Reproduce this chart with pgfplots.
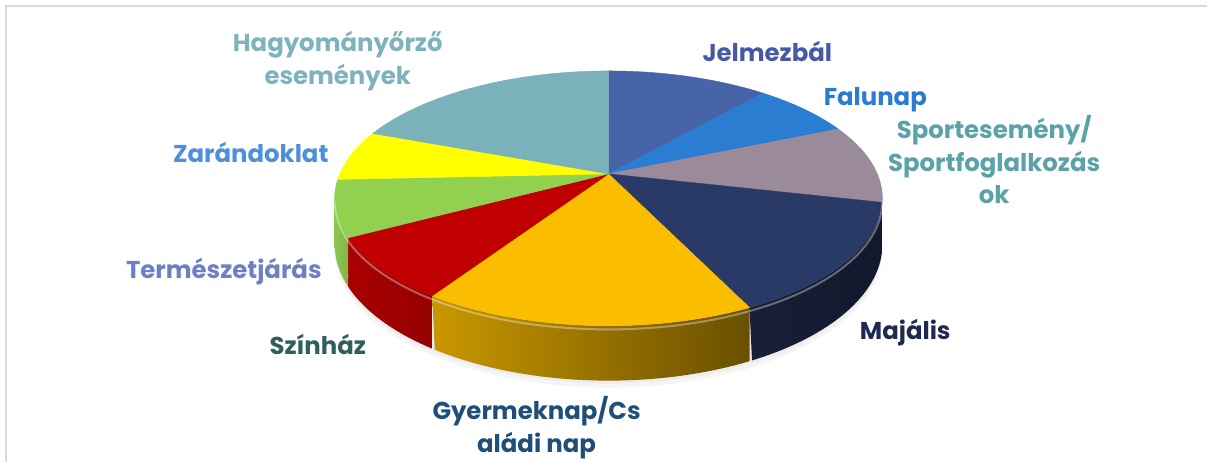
\documentclass[border=0pt]{standalone}
\usepackage{pgfplots}
\pgfplotsset{compat=1.18}
\usepackage{fontspec}
\setmainfont{Poppins}
% slice colours
\definecolor{cJel}{HTML}{4864A8}
\definecolor{cFal}{HTML}{2A7DD1}
\definecolor{cSpo}{HTML}{9B8A99}
\definecolor{cMaj}{HTML}{2A3A66}
\definecolor{cGye}{HTML}{FBBD00}
\definecolor{cSzi}{HTML}{C00000}
\definecolor{cTer}{HTML}{92D050}
\definecolor{cZar}{HTML}{FFFF00}
\definecolor{cHag}{HTML}{7BB1BA}
% label colours
\definecolor{lJel}{HTML}{4659A6}
\definecolor{lFal}{HTML}{2B7BD3}
\definecolor{lSpo}{HTML}{5AA2A8}
\definecolor{lMaj}{HTML}{1F2A52}
\definecolor{lGye}{HTML}{1F4E7A}
\definecolor{lSzi}{HTML}{2E5E5E}
\definecolor{lTer}{HTML}{6C80C4}
\definecolor{lZar}{HTML}{4C8FDA}
\definecolor{lHag}{HTML}{7DB3BC}
\definecolor{frame}{HTML}{D9D9D9}
% data (counts)
\def\vJel{16}\def\vFal{10}\def\vSpo{14}\def\vMaj{20}\def\vGye{23}
\def\vSzi{11}\def\vTer{10}\def\vZar{9}\def\vHag{27}
\pgfmathsetmacro\tot{\vJel+\vFal+\vSpo+\vMaj+\vGye+\vSzi+\vTer+\vZar+\vHag}
\pgfmathsetmacro\sA{0}
\pgfmathsetmacro\sB{\sA+360*\vJel/\tot}
\pgfmathsetmacro\sC{\sB+360*\vFal/\tot}
\pgfmathsetmacro\sD{\sC+360*\vSpo/\tot}
\pgfmathsetmacro\sE{\sD+360*\vMaj/\tot}
\pgfmathsetmacro\sF{\sE+360*\vGye/\tot}
\pgfmathsetmacro\sG{\sF+360*\vSzi/\tot}
\pgfmathsetmacro\sH{\sG+360*\vTer/\tot}
\pgfmathsetmacro\sI{\sH+360*\vZar/\tot}
\pgfmathsetmacro\sJ{360}
\begin{document}
\begin{tikzpicture}[declare function={
  px(\t)=609+269*sin(\t)/(1+0.192*cos(\t));
  py(\t,\h)=288+(122.8*cos(\t)-\h)/(1+0.192*cos(\t));
  tt(\s,\a,\b)=ifthenelse(\s<1.003,\a+(\b-\a)*\s,\b-(\b-\a)*(\s-1));
  hh(\s)=ifthenelse(\s<1.003,0,44.4);
}]
\begin{axis}[width=604pt,height=231pt,scale only axis,
  xmin=0,xmax=1208,ymin=0,ymax=462,
  axis line style={draw=none},ticks=none,clip=false]
% frame
\draw[frame,line width=1pt] (axis cs:6,0) -- (axis cs:6,456) -- (axis cs:1208,456);
% shadow
\addplot[fill=black!4,draw=none,domain=0:360,samples=120] ({px(x)},{py(x,44.4)-7}) -- cycle;
\addplot[fill=black!7,draw=none,domain=0:360,samples=120] ({px(x)},{py(x,44.4)-3}) -- cycle;
% sides
\addplot[draw=none,left color=black!60!cSpo,right color=black!60!cSpo,domain=0:2,samples=201]
  ({px(tt(x,101,\sD))},{py(tt(x,101,\sD),hh(x))}) -- cycle;
\addplot[draw=none,left color=black!45!cMaj,right color=black!58!cMaj,domain=0:2,samples=201]
  ({px(tt(x,\sD,\sE))},{py(tt(x,\sD,\sE),hh(x))}) -- cycle;
\addplot[draw=none,left color=black!20!cGye,right color=black!58!cGye,domain=0:2,samples=201]
  ({px(tt(x,\sE,\sF))},{py(tt(x,\sE,\sF),hh(x))}) -- cycle;
\addplot[draw=none,left color=black!12!cSzi,right color=black!22!cSzi,domain=0:2,samples=201]
  ({px(tt(x,\sF,\sG))},{py(tt(x,\sF,\sG),hh(x))}) -- cycle;
\addplot[draw=none,left color=black!5!cTer,right color=black!12!cTer,domain=0:2,samples=201]
  ({px(tt(x,\sG,259))},{py(tt(x,\sG,259),hh(x))}) -- cycle;
% top faces
\addplot[fill=cJel,draw=cJel,line width=0.2pt,domain=\sA:\sB,samples=40] ({px(x)},{py(x,0)}) -- (axis cs:609,288) -- cycle;
\addplot[fill=cFal,draw=cFal,line width=0.2pt,domain=\sB:\sC,samples=40] ({px(x)},{py(x,0)}) -- (axis cs:609,288) -- cycle;
\addplot[fill=cSpo,draw=cSpo,line width=0.2pt,domain=\sC:\sD,samples=40] ({px(x)},{py(x,0)}) -- (axis cs:609,288) -- cycle;
\addplot[fill=cMaj,draw=cMaj,line width=0.2pt,domain=\sD:\sE,samples=40] ({px(x)},{py(x,0)}) -- (axis cs:609,288) -- cycle;
\addplot[fill=cGye,draw=cGye,line width=0.2pt,domain=\sE:\sF,samples=40] ({px(x)},{py(x,0)}) -- (axis cs:609,288) -- cycle;
\addplot[fill=cSzi,draw=cSzi,line width=0.2pt,domain=\sF:\sG,samples=40] ({px(x)},{py(x,0)}) -- (axis cs:609,288) -- cycle;
\addplot[fill=cTer,draw=cTer,line width=0.2pt,domain=\sG:\sH,samples=40] ({px(x)},{py(x,0)}) -- (axis cs:609,288) -- cycle;
\addplot[fill=cZar,draw=cZar,line width=0.2pt,domain=\sH:\sI,samples=40] ({px(x)},{py(x,0)}) -- (axis cs:609,288) -- cycle;
\addplot[fill=cHag,draw=cHag,line width=0.2pt,domain=\sI:\sJ,samples=40] ({px(x)},{py(x,0)}) -- (axis cs:609,288) -- cycle;
% bevel highlight
\addplot[draw=white,opacity=0.35,line width=1pt,domain=101:259,samples=100] ({px(x)},{py(x,3)});
% labels
\begin{scope}[every node/.style={font=\fontsize{12.2}{16.3}\selectfont\bfseries,align=center,inner sep=0pt}]
\node[text=lHag] at (axis cs:338,401) {Hagyományőrző\\események};
\node[text=lJel] at (axis cs:768,410) {Jelmezbál};
\node[text=lFal] at (axis cs:876,362) {Falunap};
\node[text=lSpo] at (axis cs:995,302) {Sportesemény/\\Sportfoglalkozás\\ok};
\node[text=lMaj] at (axis cs:906,129) {Majális};
\node[text=lGye] at (axis cs:537,34) {Gyermeknap/Cs\\aládi nap};
\node[text=lSzi] at (axis cs:318,117) {Színház};
\node[text=lTer] at (axis cs:224,190) {Természetjárás};
\node[text=lZar] at (axis cs:251,309) {Zarándoklat};
\end{scope}
\end{axis}
\end{tikzpicture}
\end{document}
